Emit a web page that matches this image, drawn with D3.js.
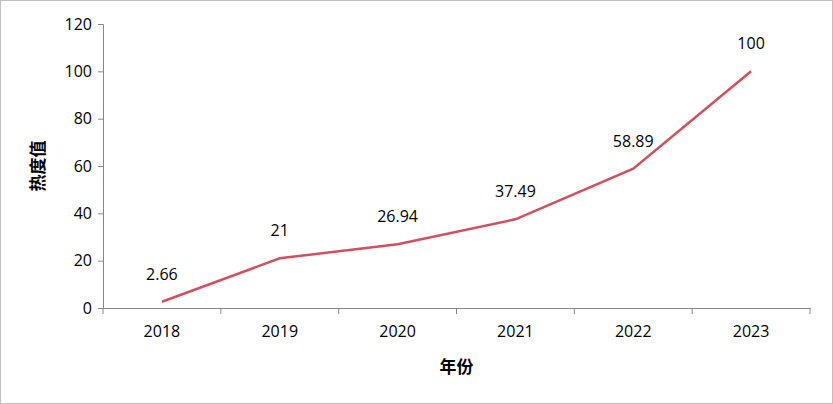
<!DOCTYPE html>
<html><head><meta charset="utf-8">
<script src="https://cdn.jsdelivr.net/npm/d3@7"></script>
<style>body{margin:0;background:#fff}</style>
</head><body>
<script>
const years = ["2018", "2019", "2020", "2021", "2022", "2023"];
const heat = [2.66, 21, 26.94, 37.49, 58.89, 100];
const yTicks = [0, 20, 40, 60, 80, 100, 120];

const W = 833, H = 404;
const m = {left: 103, right: 23, top: 24, bottom: 96};
const svg = d3.select("body").append("svg").attr("width", W).attr("height", H);
svg.append("rect").attr("x", 0.5).attr("y", 0.5).attr("width", W - 1).attr("height", H - 1)
    .attr("fill", "#fff").attr("stroke", "#bfbfbf");

const x = d3.scaleBand().domain(years).range([m.left, W - m.right]);
const y = d3.scaleLinear().domain([0, 120]).range([H - m.bottom, m.top]);
const font = "'Open Sans', 'DejaVu Sans', sans-serif";

// axes
const yAxis = svg.append("g").attr("transform", `translate(${m.left},0)`)
    .call(d3.axisLeft(y).tickValues(yTicks).tickSize(5).tickPadding(6));
const xAxis = svg.append("g").attr("transform", `translate(0,${H - m.bottom})`)
    .call(d3.axisBottom(x).tickSize(0).tickPadding(18));
xAxis.selectAll(".tick line").remove();
xAxis.selectAll(".xt").data(d3.range(years.length + 1)).join("line")
    .attr("x1", i => m.left + i * x.step()).attr("x2", i => m.left + i * x.step())
    .attr("y1", 0).attr("y2", 6).attr("stroke", "#868686");
[yAxis, xAxis].forEach(a => {
    a.selectAll("path,line").attr("stroke", "#868686");
    a.selectAll("text").attr("fill", "#000").style("font", `16px ${font}`);
});

// line
svg.append("path").datum(heat)
    .attr("fill", "none").attr("stroke", "#d0505e").attr("stroke-width", 2.5)
    .attr("d", d3.line().x((d, i) => x(years[i]) + x.bandwidth() / 2).y(d => y(d)));

svg.append("g").selectAll("text").data(heat).join("text")
    .attr("x", (d, i) => x(years[i]) + x.bandwidth() / 2)
    .attr("y", d => y(d) - 22)
    .attr("text-anchor", "middle").style("font", `16px ${font}`)
    .text(d => d);

// titles
svg.append("text").attr("x", (m.left + W - m.right) / 2).attr("y", 373)
    .attr("text-anchor", "middle").style("font", "bold 17px 'Noto Sans CJK SC', sans-serif").text("年份");
svg.append("text").attr("transform", `translate(44,${(m.top + H - m.bottom) / 2}) rotate(-90)`)
    .attr("text-anchor", "middle").style("font", "bold 17px 'Noto Sans CJK SC', sans-serif").text("热度值");
</script>
</body></html>
